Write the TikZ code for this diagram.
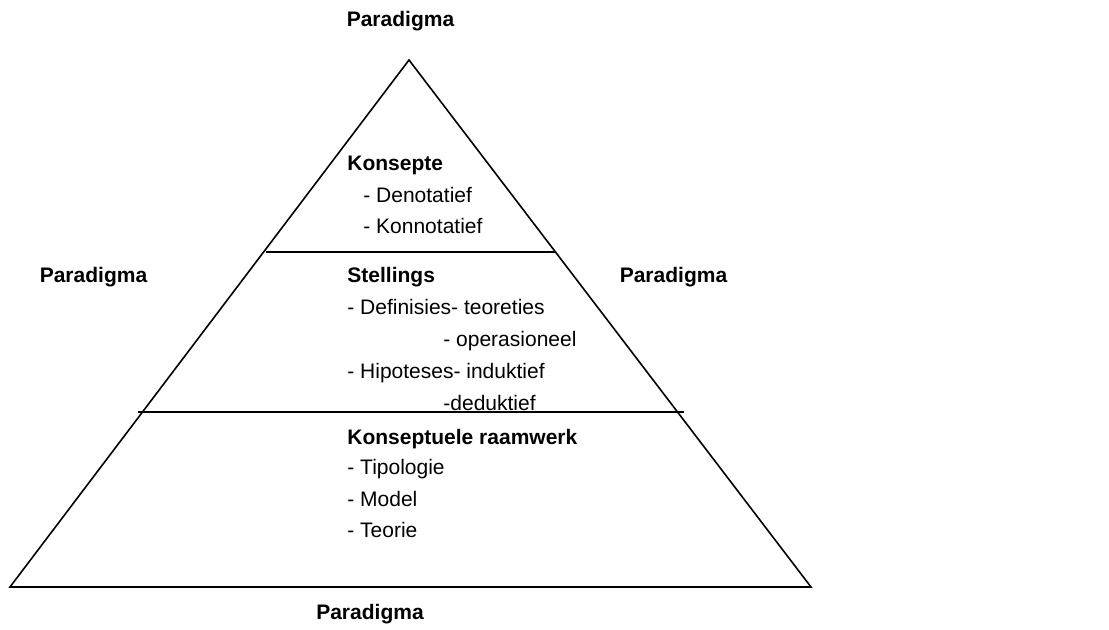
\documentclass[tikz,border=0pt]{standalone}
\usepackage{fontspec}
\setmainfont{Liberation Sans}
\usetikzlibrary{calc}

\begin{document}
\begin{tikzpicture}[x=0.5pt,y=0.5pt,every node/.style={inner sep=0,font=\fontsize{10.5}{12.6}\selectfont}]
		\useasboundingbox (0,0) rectangle (1109,630);
		\coordinate (top) at (409,570);
		\coordinate (bl) at (10,43);
		\coordinate (br) at (811,43);
		\coordinate (L1a) at (266,378);
		\coordinate (L1b) at (555,378);
		\coordinate (L2a) at (138,218);
		\coordinate (L2b) at (684,218);
		\draw[thick] (top) -- (bl) -- (br) -- cycle;
		\draw[thick] (L1a) -- (L1b);
		\draw[thick] (L2a) -- (L2b);
		\node (P1) at (400.5,603) [anchor=base] {\bfseries Paradigma};
		\node (P2) at (93.5,347) [anchor=base] {\bfseries Paradigma};
		\node (P3) at (673.5,347) [anchor=base] {\bfseries Paradigma};
		\node (P4) at (370,10) [anchor=base] {\bfseries Paradigma};
		\node (K) at (347,459) [anchor=base west] {\bfseries Konsepte};
		\node (K1) at ($(K.base west) + (16,-32)$) [anchor=base west] {- Denotatief};
		\node (K2) at ($(K1.base west) - (0,31)$) [anchor=base west] {- Konnotatief};
		\node (S) at (347,347) [anchor=base west] {\bfseries Stellings};
		\node (S1) at ($(S.base west) - (0,32)$) [anchor=base west] {- Definisies- teoreties};
		\node (S2) at ($(S1.base west) + (96,-32)$) [anchor=base west] {- operasioneel};
		\node (S3) at ($(S1.base west) - (0,64)$) [anchor=base west] {- Hipoteses- induktief};
		\node (S4) at ($(S2.base west) - (0,64)$) [anchor=base west] {-deduktief};
		\node (R) at (347,185) [anchor=base west] {\bfseries Konseptuele raamwerk};
		\node (R1) at ($(R.base west) - (0,30)$) [anchor=base west] {- Tipologie};
		\node (R2) at ($(R1.base west) - (0,32)$) [anchor=base west] {- Model};
		\node (R3) at ($(R2.base west) - (0,31)$) [anchor=base west] {- Teorie};
	\end{tikzpicture}
\end{document}
